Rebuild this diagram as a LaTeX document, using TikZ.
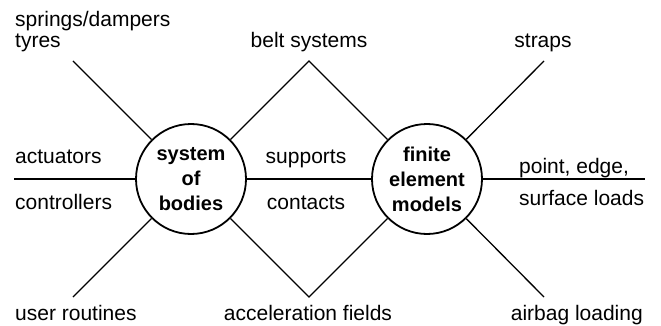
\documentclass[tikz,border=0pt]{standalone}
\usepackage{fontspec}
\setmainfont{Liberation Sans}
\begin{document}
\begin{tikzpicture}[x=1pt,y=-1pt,
  lbl/.style={font=\fontsize{21}{21}\selectfont, inner sep=0pt},
  hub/.style={draw, circle, line width=1.8pt, minimum size=110pt, inner sep=0pt,
    font=\fontsize{20}{25}\selectfont\bfseries, align=center},
  conn/.style={line width=1.3pt}]
\useasboundingbox (0,0) rectangle (661,326);
% hubs
\node[hub] (sob) at (191,179) {system\\of\\bodies};
\node[hub] (fem) at (427,179) {finite\\element\\models};
% free ends
\coordinate (w) at (14,179);
\coordinate (e) at (645,179);
\coordinate (nw) at (73,61);
\coordinate (sw) at (73,297);
\coordinate (peak) at (309,61);
\coordinate (valley) at (309,297);
\coordinate (ne) at (544,61);
\coordinate (se) at (544,297);
% connectors
\draw[conn] (w) -- (sob) -- (fem) -- (e);
\draw[conn] (nw) -- (sob);
\draw[conn] (sw) -- (sob);
\draw[conn] (sob) -- (peak) -- (fem);
\draw[conn] (sob) -- (valley) -- (fem);
\draw[conn] (fem) -- (ne);
\draw[conn] (fem) -- (se);
% labels
\node[lbl, anchor=base west] (springs) at (15,27) {springs/dampers};
\node[lbl, anchor=base west] (tyres) at (15,48) {tyres};
\node[lbl, anchor=base] (belt) at (309,48) {belt systems};
\node[lbl, anchor=base] (straps) at (543,48) {straps};
\node[lbl, anchor=base west] (act) at (15,164) {actuators};
\node[lbl, anchor=base west] (ctrl) at (15,209) {controllers};
\node[lbl, anchor=base] (supp) at (306,164) {supports};
\node[lbl, anchor=base] (cont) at (306,209) {contacts};
\node[lbl, anchor=base west] (pel) at (519,173) {point, edge,};
\node[lbl, anchor=base west] (sl) at (519,205) {surface loads};
\node[lbl, anchor=base west] (user) at (15,320) {user routines};
\node[lbl, anchor=base] (acc) at (308,320) {acceleration fields};
\node[lbl, anchor=base east] (air) at (643,320) {airbag loading};
\end{tikzpicture}
\end{document}
